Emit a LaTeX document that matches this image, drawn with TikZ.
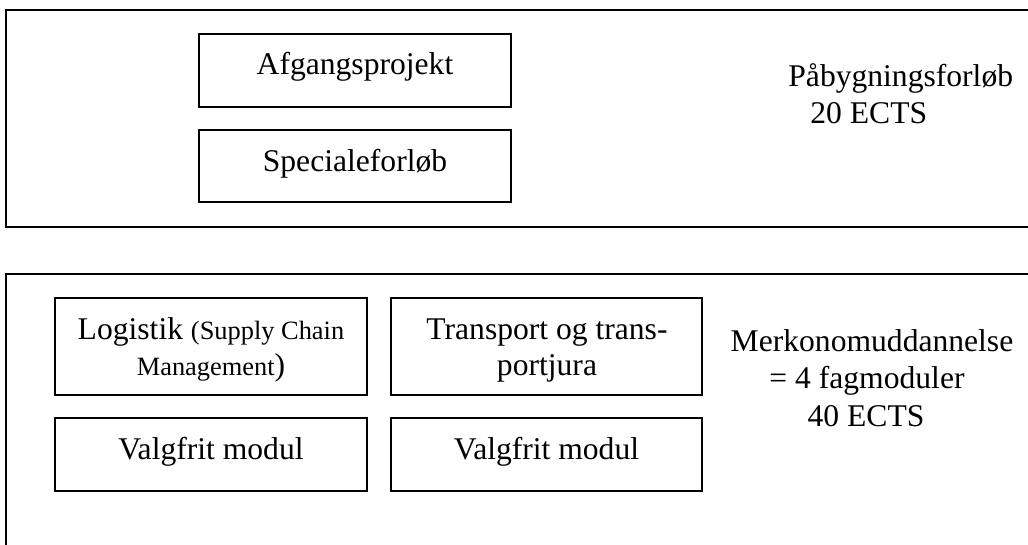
\documentclass[tikz,border=0pt]{standalone}
\usepackage{fontspec}
\setmainfont{Liberation Serif}
\newcommand{\bigtxt}{\fontsize{15.8pt}{18.5pt}\selectfont}
\newcommand{\smalltxt}{\fontsize{13.2pt}{15pt}\selectfont}
\begin{document}
\begin{tikzpicture}[x=0.5pt,y=-0.5pt,
  frame/.style={draw=black,line width=1pt},
  box/.style={draw=black,line width=1pt,rectangle,inner sep=0pt},
  txt/.style={inner sep=0pt,font=\bigtxt,anchor=base}]
\useasboundingbox (0,0) rectangle (1028,545);
\clip (0,0) rectangle (1028,545);
% frames
\draw[frame] (6,10) rectangle (1045,227);
\draw[frame] (6,274) rectangle (1045,560);
% top boxes
\node[box,minimum width=156pt,minimum height=36.5pt] (afg) at (355,70.5) {};
\node[box,minimum width=156pt,minimum height=36pt] (spec) at (355,166) {};
\node[txt] (tafg) at (355,75) {Afgangsprojekt};
\node[txt] (tspec) at (355,172) {Specialeforløb};
\node[txt,anchor=base west] (pab) at (788,87) {Påbygningsforløb};
\node[txt,anchor=base west] (pab2) at (810,124) {20 ECTS};
% bottom boxes
\node[box,minimum width=156pt,minimum height=48.5pt] (log) at (211,346.5) {};
\node[box,minimum width=155.5pt,minimum height=48.5pt] (tra) at (546.5,346.5) {};
\node[box,minimum width=156pt,minimum height=36.5pt] (val1) at (211,454.5) {};
\node[box,minimum width=155.5pt,minimum height=36.5pt] (val2) at (546.5,454.5) {};
\node[txt] (tlog1) at (211,339) {Logistik {\smalltxt (Supply Chain}};
\node[txt] (tlog2) at (211,375) {{\smalltxt Management})};
\node[txt] (ttra1) at (547,339) {Transport og trans-};
\node[txt] (ttra2) at (547,375) {portjura};
\node[txt] (tval1) at (211,459) {Valgfrit modul};
\node[txt] (tval2) at (546.5,459) {Valgfrit modul};
\node[txt] (mer1) at (872,351) {Merkonomuddannelse};
\node[txt] (mer2) at (867,388) {= 4 fagmoduler};
\node[txt] (mer3) at (866,426) {40 ECTS};
\end{tikzpicture}
\end{document}
